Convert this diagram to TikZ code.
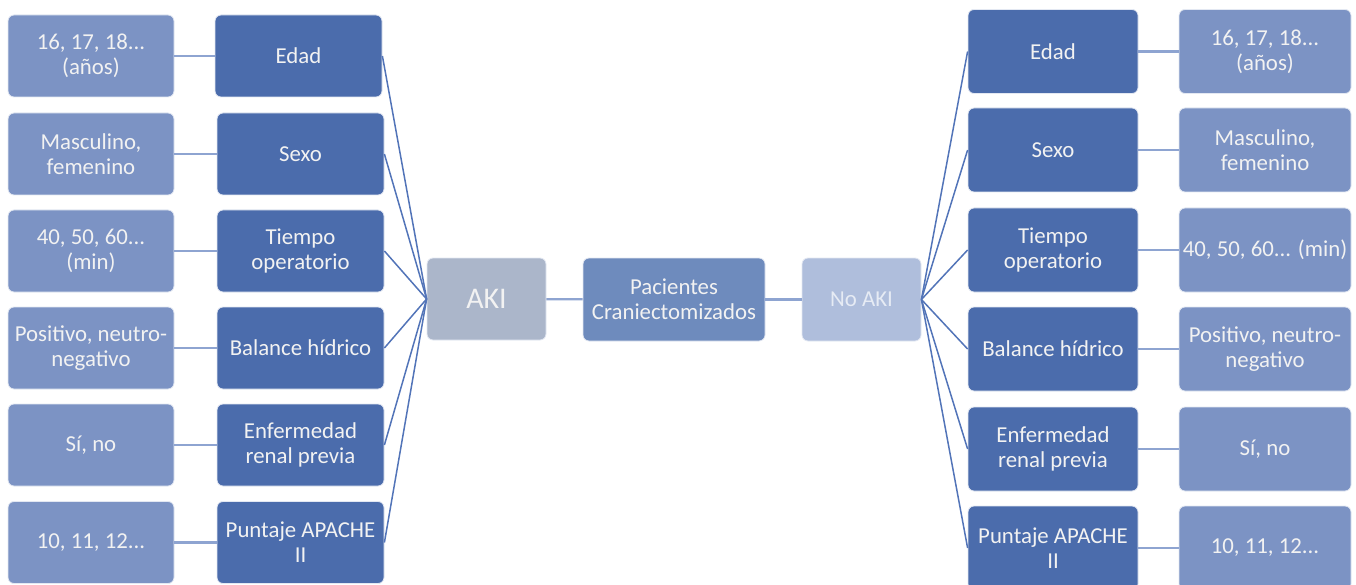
\documentclass[tikz,border=0pt]{standalone}
\usepackage{fontspec}
\setmainfont{Carlito}
\definecolor{darkb}{HTML}{4B6CAC}
\definecolor{lightb}{HTML}{7C93C4}
\definecolor{akic}{HTML}{ABB6CA}
\definecolor{pacc}{HTML}{6E8BBD}
\definecolor{noakic}{HTML}{AFBEDC}
\definecolor{noakit}{HTML}{E6EBF4}
\definecolor{diagc}{HTML}{5274B8}
\definecolor{horc}{HTML}{8EA4D1}
\definecolor{rimc}{HTML}{E3E8F2}
\begin{document}
\begin{tikzpicture}[x=1pt,y=-1pt,
  box/.style={rounded corners=6pt, draw=rimc, line width=0.8pt, text=white!95!black,
     align=center, inner sep=1pt, font=\fontsize{22.8}{25}\selectfont},
  midL/.style={box, fill=darkb, minimum width=167pt, minimum height=82pt},
  outL/.style={box, fill=lightb, minimum width=166pt, minimum height=82pt},
  midR/.style={box, fill=darkb, minimum width=170pt, minimum height=84pt},
  outR/.style={box, fill=lightb, minimum width=172pt, minimum height=84pt},
  diag/.style={draw=diagc, line width=1.5pt},
  hor/.style={draw=horc, line width=2.2pt},
]
\useasboundingbox (0,0) rectangle (1356,585);

% center
\node[box, fill=akic, minimum width=119pt, minimum height=82pt, font=\fontsize{30}{34}\selectfont] (aki) at (486.5,299) {AKI};
\node[box, fill=pacc, minimum width=182pt, minimum height=83pt] (pac) at (674,299.5) {Pacientes\\Craniectomizados};
\node[box, fill=noakic, text=noakit, minimum width=119pt, minimum height=83pt] (noaki) at (861.5,299.5) {No AKI};

% left
\node[midL] (lm1) at (298.5,56) {Edad};
\node[midL] (lm2) at (300.5,154) {Sexo};
\node[midL] (lm3) at (300.5,251) {Tiempo\\operatorio};
\node[midL] (lm4) at (300.5,348) {Balance hídrico};
\node[midL] (lm5) at (300.5,445) {Enfermedad\\renal previa};
\node[midL] (lm6) at (300.5,542.5) {Puntaje APACHE\\II};

\node[outL] (lo1) at (91,56) {16, 17, 18...\\(años)};
\node[outL] (lo2) at (91,154) {Masculino,\\femenino};
\node[outL] (lo3) at (91,251) {40, 50, 60...\\(min)};
\node[outL] (lo4) at (91,348) {Positivo, neutro-\\negativo};
\node[outL] (lo5) at (91,445) {Sí, no};
\node[outL] (lo6) at (91,542.5) {10, 11, 12...};

% right
\node[midR] (rm1) at (1053,51.5) {Edad};
\node[midR] (rm2) at (1053,150) {Sexo};
\node[midR] (rm3) at (1053,250) {Tiempo\\operatorio};
\node[midR] (rm4) at (1053,349) {Balance hídrico};
\node[midR] (rm5) at (1053,449) {Enfermedad\\renal previa};
\node[midR] (rm6) at (1053,548) {Puntaje APACHE\\II};

\node[outR] (ro1) at (1265,51.5) {16, 17, 18...\\(años)};
\node[outR] (ro2) at (1265,150) {Masculino,\\femenino};
\node[outR] (ro3) at (1265,250) {40, 50, 60... (min)};
\node[outR] (ro4) at (1265,349) {Positivo, neutro-\\negativo};
\node[outR] (ro5) at (1265,449) {Sí, no};
\node[outR] (ro6) at (1265,548) {10, 11, 12...};

% connectors
\draw[hor] (aki) -- (pac);
\draw[hor] (pac) -- (noaki);
\foreach \i in {1,...,6}{
  \draw[hor] (lo\i) -- (lm\i);
  \draw[hor] (rm\i) -- (ro\i);
  \draw[diag] (lm\i.east) -- (aki.west);
  \draw[diag] (noaki.east) -- (rm\i.west);
}
\end{tikzpicture}
\end{document}
